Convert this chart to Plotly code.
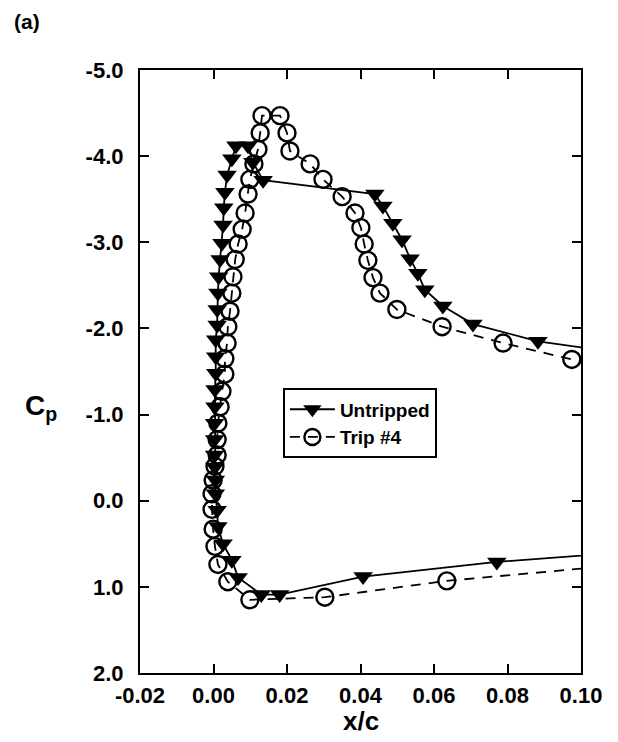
import plotly.graph_objects as go

# ---- data ----
untripped_x = [0.115, 0.0771, 0.0407, 0.0180, 0.0130, 0.0067, 0.0050, 0.0026, 0.0012, 0.0010,
               0.0005, 0.0005, 0.0004, 0.0003, 0.0003, 0.0003, 0.0004, 0.0004, 0.0006, 0.0006,
               0.0006, 0.0010, 0.0010, 0.0012, 0.0014, 0.0018, 0.0023, 0.0026, 0.0028, 0.0031,
               0.0037, 0.0050, 0.0061, 0.0094, 0.0107, 0.0135, 0.0439, 0.0461, 0.0488, 0.0513,
               0.0535, 0.0556, 0.0575, 0.0624, 0.0706, 0.0883, 0.110]
untripped_cp = [0.59, 0.71, 0.88, 1.09, 1.09, 0.89, 0.69, 0.50, 0.30, 0.11,
                -0.08, -0.24, -0.39, -0.53, -0.71, -0.90, -1.09, -1.29, -1.48, -1.67,
                -1.87, -2.04, -2.22, -2.41, -2.60, -2.80, -2.99, -3.20, -3.40, -3.58,
                -3.78, -3.97, -4.12, -4.12, -3.93, -3.72, -3.56, -3.42, -3.22, -3.03,
                -2.81, -2.64, -2.45, -2.26, -2.05, -1.85, -1.72]

trip4_x = [0.110, 0.0635, 0.0303, 0.0099, 0.0039, 0.0012, 0.0004, -0.0001, -0.0004, -0.0004,
           -0.0001, 0.0004, 0.0010, 0.0010, 0.0012, 0.0018, 0.0023, 0.0031, 0.0031, 0.0037,
           0.0039, 0.0045, 0.0050, 0.0053, 0.0059, 0.0067, 0.0078, 0.0086, 0.0094, 0.0099,
           0.0110, 0.0121, 0.0127, 0.0132, 0.0181, 0.0200, 0.0208, 0.0263, 0.0298, 0.0350,
           0.0385, 0.0401, 0.0410, 0.0420, 0.0434, 0.0453, 0.0499, 0.0622, 0.0788, 0.0975]
trip4_cp = [0.75, 0.93, 1.12, 1.15, 0.94, 0.74, 0.53, 0.33, 0.10, -0.08,
            -0.24, -0.40, -0.53, -0.71, -0.90, -1.09, -1.27, -1.47, -1.65, -1.83,
            -2.02, -2.20, -2.41, -2.60, -2.80, -2.98, -3.15, -3.34, -3.56, -3.73,
            -3.91, -4.08, -4.27, -4.47, -4.47, -4.27, -4.06, -3.91, -3.73, -3.53,
            -3.34, -3.17, -2.98, -2.79, -2.59, -2.41, -2.22, -2.02, -1.83, -1.64]

x_tickvals = [-0.02, 0.00, 0.02, 0.04, 0.06, 0.08, 0.10]
x_ticktext = ["-0.02", "0.00", "0.02", "0.04", "0.06", "0.08", "0.10"]
y_tickvals = [-5, -4, -3, -2, -1, 0, 1, 2]
y_ticktext = ["-5.0", "-4.0", "-3.0", "-2.0", "-1.0", "0.0", "1.0", "2.0"]

FONT = "Liberation Sans, Arial, sans-serif"

fig = go.Figure()
fig.add_trace(go.Scatter(
    x=trip4_x, y=trip4_cp, mode="lines+markers", name="Trip #4", legendrank=2,
    line=dict(color="black", width=1.8, dash="10px,8px"),
    marker=dict(symbol="circle-open", size=17, color="black", line=dict(width=2.4, color="black")),
))
fig.add_trace(go.Scatter(
    x=untripped_x, y=untripped_cp, mode="lines+markers", name="Untripped", legendrank=1,
    line=dict(color="black", width=1.8),
    marker=dict(symbol="triangle-down", size=17, color="black", line=dict(width=0)),
))

axis_common = dict(
    showgrid=False, zeroline=False, showline=True, linecolor="black", linewidth=2.2,
    mirror="ticks", ticks="inside", ticklen=9, tickwidth=1.6, tickcolor="black",
    tickfont=dict(family=FONT, size=22, color="black", weight="bold"),
)
fig.update_xaxes(range=[-0.02, 0.10], tickvals=x_tickvals, ticktext=x_ticktext,
                 ticklabelstandoff=1, **axis_common)
fig.update_yaxes(range=[2, -5], tickvals=y_tickvals, ticktext=y_ticktext,
                 ticklabelstandoff=10, **axis_common)

fig.update_layout(
    width=618, height=742,
    margin=dict(l=140, r=37, t=70, b=69),
    plot_bgcolor="white", paper_bgcolor="white",
    showlegend=True,
    legend=dict(x=0.324, y=0.472, xanchor="left", yanchor="top",
                bgcolor="white", bordercolor="black", borderwidth=2,
                font=dict(family=FONT, size=19, color="black", weight="bold"),
                tracegroupgap=0, itemwidth=45),
    annotations=[
        dict(text="<b>x/c</b>", xref="paper", yref="paper", x=0.5, y=-0.08,
             showarrow=False, xanchor="center", yanchor="middle",
             font=dict(family=FONT, size=26, color="black")),
        dict(text="<b>C<sub>p</sub></b>", xref="paper", x=-0.225, yref="paper", y=0.44,
             showarrow=False, xanchor="center", yanchor="middle",
             font=dict(family=FONT, size=28, color="black")),
        dict(text="<b>(a)</b>", xref="paper", yref="paper", x=-0.29, y=1.08,
             showarrow=False, xanchor="left", yanchor="middle",
             font=dict(family=FONT, size=21, color="black")),
    ],
)

fig.write_html("out.html")
